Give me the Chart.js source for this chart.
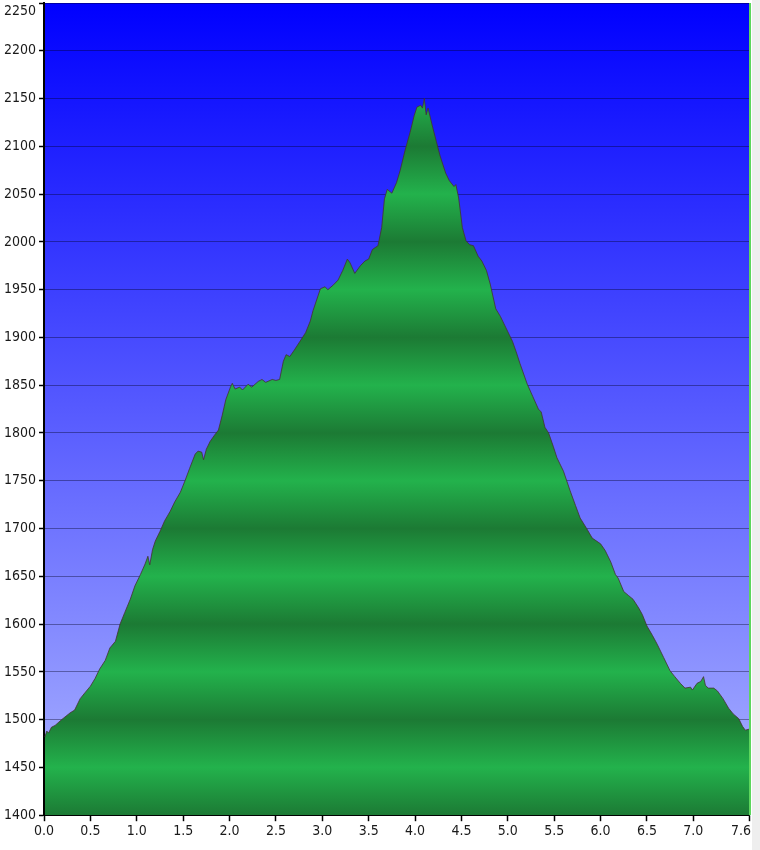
<!DOCTYPE html>
<html>
<head>
<meta charset="utf-8">
<script src="https://cdn.jsdelivr.net/npm/chart.js@4"></script>
<style>
html,body{margin:0;padding:0;background:#fff;}
#wrap{width:760px;height:850px;}
</style>
</head>
<body>
<div id="wrap"><canvas id="c" width="760" height="850"></canvas></div>
<script>
// distance (km)
const distance = [0.01,0.03,0.05,0.08,0.12,0.19,0.28,0.33,0.39,0.44,0.5,0.55,0.6,0.66,0.71,0.77,0.82,0.87,0.93,0.98,
1.04,1.09,1.12,1.14,1.17,1.2,1.25,1.3,1.36,1.41,1.47,1.52,1.57,1.63,1.66,1.7,1.72,1.75,1.79,1.84,
1.88,1.92,1.96,2.01,2.03,2.06,2.11,2.14,2.2,2.24,2.31,2.35,2.39,2.46,2.5,2.54,2.58,2.61,2.65,2.7,
2.76,2.82,2.87,2.9,2.98,3.03,3.06,3.12,3.17,3.22,3.27,3.3,3.35,3.41,3.46,3.5,3.54,3.6,3.64,3.67,
3.7,3.75,3.8,3.84,3.89,3.95,3.99,4.02,4.06,4.08,4.1,4.12,4.14,4.19,4.23,4.27,4.33,4.37,4.42,4.44,
4.47,4.51,4.55,4.59,4.63,4.68,4.72,4.77,4.81,4.87,4.92,4.98,5.05,5.09,5.13,5.21,5.27,5.33,5.36,5.4,
5.44,5.49,5.53,5.6,5.67,5.73,5.78,5.85,5.91,6.0,6.05,6.11,6.16,6.19,6.25,6.3,6.35,6.41,6.45,6.5,
6.56,6.61,6.68,6.75,6.8,6.86,6.91,6.97,6.99,7.04,7.08,7.11,7.13,7.16,7.22,7.26,7.32,7.38,7.43,7.49,
7.53,7.56,7.6];
// elevation (m)
const elevation = [1482,1488,1486,1492,1494,1500,1507,1510,1522,1528,1535,1543,1553,1562,1575,1582,1600,1612,1626,1640,
1652,1663,1671,1662,1678,1687,1697,1708,1718,1728,1738,1750,1763,1778,1781,1780,1772,1783,1791,1798,
1803,1818,1835,1848,1852,1846,1848,1845,1851,1848,1854,1856,1853,1856,1855,1856,1875,1882,1880,1887,
1896,1905,1917,1928,1951,1953,1950,1955,1960,1970,1982,1978,1967,1975,1980,1982,1992,1996,2015,2045,
2055,2051,2062,2075,2095,2116,2132,2141,2143,2140,2150,2133,2140,2120,2105,2090,2072,2064,2058,2060,
2046,2015,2001,1997,1996,1985,1980,1970,1956,1930,1922,1910,1896,1885,1873,1851,1838,1825,1822,1806,
1800,1786,1774,1760,1740,1724,1711,1700,1690,1684,1677,1665,1652,1648,1634,1630,1626,1617,1610,1598,
1588,1579,1565,1551,1545,1538,1533,1534,1531,1538,1540,1545,1536,1533,1533,1530,1522,1512,1506,1501,
1493,1489,1490];
const xTicks = [0.0,0.5,1.0,1.5,2.0,2.5,3.0,3.5,4.0,4.5,5.0,5.5,6.0,6.5,7.0,7.6];
const yMin = 1400, yMax = 2250, yStep = 50;

const points = distance.map((d,i)=>({x:d,y:elevation[i]}));

const bgPlugin = {
  id:'bg',
  beforeDraw(chart){
    const {ctx, chartArea:a} = chart;
    ctx.save();
    ctx.fillStyle = '#ffffff';
    ctx.fillRect(0,0,chart.width,chart.height);
    ctx.fillStyle = '#eeeeee';
    ctx.fillRect(752,0,chart.width-752,chart.height);
    const g = ctx.createLinearGradient(0,a.top,0,a.bottom);
    g.addColorStop(0,'rgb(0,0,255)');
    g.addColorStop(1,'rgb(172,180,255)');
    ctx.fillStyle = g;
    ctx.fillRect(a.left,a.top,a.right-a.left+2,a.bottom-a.top);
    ctx.restore();
  },
  afterDraw(chart){
    const {ctx, chartArea:a} = chart;
    ctx.save();
    ctx.strokeStyle = '#5cd65c';
    ctx.lineWidth = 2;
    ctx.beginPath();
    ctx.moveTo(a.right+1,a.top);
    ctx.lineTo(a.right+1,a.bottom);
    ctx.stroke();
    ctx.restore();
  }
};

function greenFill(context){
  const chart = context.chart;
  const a = chart.chartArea;
  if(!a) return '#22aa4a';
  const y = chart.scales.y;
  const top = y.getPixelForValue(yMax), bot = y.getPixelForValue(yMin);
  const g = chart.ctx.createLinearGradient(0,top,0,bot);
  for(let v=yMin; v<=yMax; v+=yStep){
    const t = (y.getPixelForValue(v)-top)/(bot-top);
    const dark = (Math.round(v/yStep)%2===0);
    g.addColorStop(Math.min(1,Math.max(0,t)), dark ? 'rgb(28,122,52)' : 'rgb(35,178,76)');
  }
  return g;
}

new Chart(document.getElementById('c'),{
  type:'line',
  data:{datasets:[{
    data:points,
    borderColor:'rgba(70,50,50,0.8)',
    borderWidth:1,
    pointRadius:0,
    fill:'start',
    backgroundColor:greenFill,
    tension:0
  }]},
  options:{
    responsive:false,
    animation:false,
    events:[],
    layout:{padding:{top:3,right:11,left:0,bottom:8}},
    plugins:{legend:{display:false},tooltip:{enabled:false}},
    scales:{
      x:{
        type:'linear',min:0,max:7.6,
        afterBuildTicks(s){ s.ticks = xTicks.map(v=>({value:v})); },
        afterFit(s){ s.paddingLeft=0; s.paddingRight=0; },
        ticks:{callback:v=> v===7.6 ? '7.6    ' : Number(v).toFixed(1),color:'#1a1a1a',font:{family:'DejaVu Sans Condensed, DejaVu Sans',size:14},padding:2,maxRotation:0,autoSkip:false},
        grid:{drawOnChartArea:false,color:'#000',tickLength:6,tickWidth:1.5},
        border:{color:'#000',width:2}
      },
      y:{
        min:yMin,max:yMax,
        z:1,
        afterFit(s){ s.width=44; s.paddingTop=0; s.paddingBottom=0; },
        ticks:{stepSize:yStep,color:'#1a1a1a',font:{family:'DejaVu Sans Condensed, DejaVu Sans',size:14},padding:3,
          callback:(v)=> v===yMax ? ['', String(v)] : String(v)},
        grid:{color:'rgba(0,0,30,0.38)',lineWidth:1,tickColor:'#000',tickLength:5,tickWidth:1.5},
        border:{color:'#000',width:2}
      }
    }
  },
  plugins:[bgPlugin]
});
</script>
</body>
</html>
